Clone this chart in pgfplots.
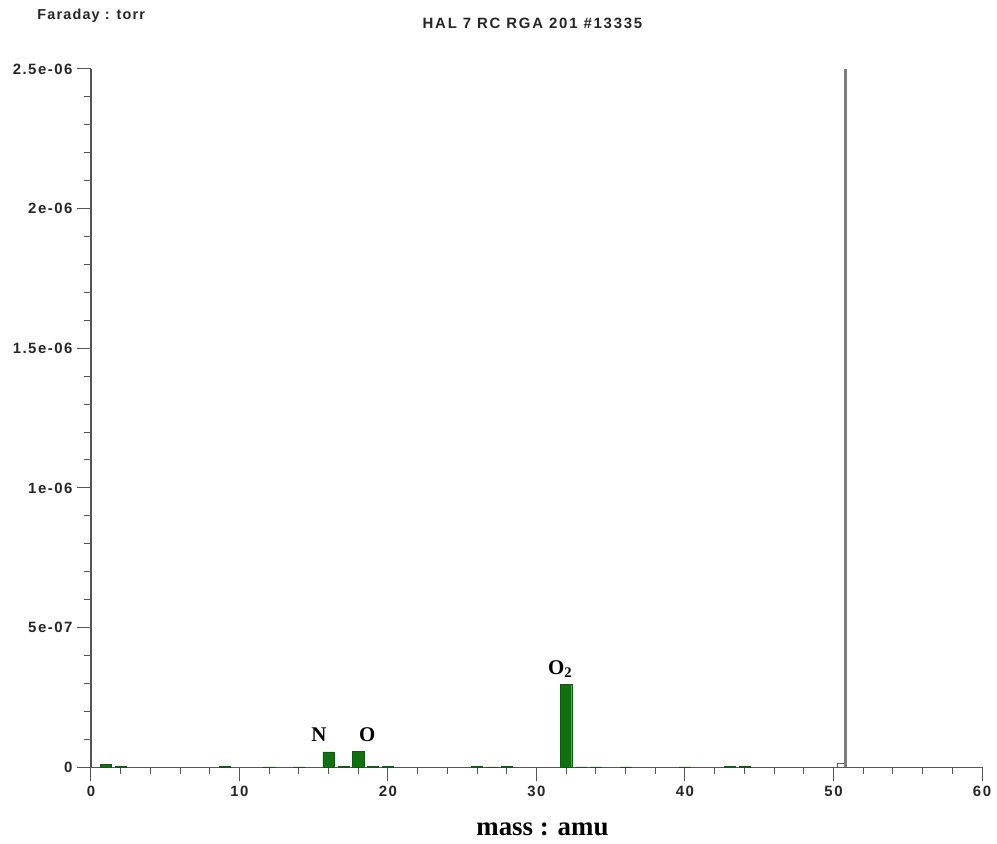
\documentclass[border=0pt]{standalone}
\usepackage{fontspec}
\setmainfont{Liberation Serif}
\setsansfont{Liberation Sans}
\newfontfamily\ticksf[LetterSpace=10]{Liberation Sans}
\newfontfamily\titlesf[LetterSpace=12]{Liberation Sans}
\newfontfamily\farsf[LetterSpace=8]{Liberation Sans}
\usepackage{pgfplots}
\pgfplotsset{compat=1.18}
\definecolor{bargreen}{RGB}{18,112,18}
\definecolor{axgray}{RGB}{85,85,85}
\definecolor{linegray}{RGB}{125,125,125}
\begin{document}
\begin{tikzpicture}
\begin{axis}[
  name=ax,
  scale only axis, width=892bp, height=699bp,
  xmin=0, xmax=60, ymin=0, ymax=2.5e-6,
  axis lines*=left,
  axis line style={axgray, line width=1.3bp},
  xtick={0,10,20,30,40,50,60}, minor x tick num=4,
  ytick={0,5e-7,1e-6,1.5e-6,2e-6,2.5e-6},
  yticklabels={0,5e-07,1e-06,1.5e-06,2e-06,2.5e-06},
  minor y tick num=4,
  scaled y ticks=false,
  tick align=outside,
  major tick length=14bp, minor tick length=7bp,
  tick style={axgray, line width=1bp},
  ticklabel style={font=\fontsize{15}{15}\selectfont\ticksf\bfseries, text=black!85},
  /pgf/number format/assume math mode=true,
  xticklabel style={yshift=-1bp},
  yticklabel style={xshift=-1bp},
  clip=false,
]
\addplot[ybar, bar width=0.75, fill=bargreen, draw=bargreen!80!black] coordinates {
  (1,1.0e-8) (2,2e-9) (9,2.5e-9) (12,1e-9) (14,1e-9) (16,5.5e-8) (17,2e-9)
  (18,5.8e-8) (19,3e-9) (20,2e-9) (26,2e-9) (27,1.5e-9) (28,2e-9)
  (32,2.97e-7) (33,1e-9) (34,1e-9) (36,1e-9) (40,1.5e-9) (43,2e-9) (44,2e-9)
};
\addplot[ybar, bar width=0.55, fill=none, draw=linegray!70!black, line width=1.2bp] coordinates {(50.55,1.4e-8)};
\addplot[linegray, line width=2.4bp] coordinates {(50.8,0) (50.8,2.5e-6)};
\node[font=\fontsize{21}{21}\selectfont\bfseries, anchor=base] at (axis cs:15.35,9.3e-8) {N};
\node[font=\fontsize{21}{21}\selectfont\bfseries, anchor=base] at (axis cs:18.6,9.3e-8) {O};
\node[font=\fontsize{21}{21}\selectfont\bfseries, anchor=base] at (axis cs:31.6,3.33e-7) {O\textsubscript{2}};
\end{axis}
\path[use as bounding box] ([shift={(-91bp,-76bp)}]ax.south west) rectangle ([shift={(15bp,69bp)}]ax.north east);
\node[font=\fontsize{14.5}{14.5}\selectfont\farsf\bfseries, text=black!85, anchor=west] at ([shift={(-57bp,53bp)}]ax.north west) {Faraday : torr};
\node[font=\fontsize{15}{15}\selectfont\titlesf\bfseries, text=black!85] at ([shift={(442bp,46bp)}]ax.north west) {HAL 7 RC RGA 201 \#13335};
\node[font=\fontsize{27}{27}\selectfont\bfseries] at ([shift={(452bp,-62bp)}]ax.south west) {mass : amu};
\end{tikzpicture}
\end{document}
